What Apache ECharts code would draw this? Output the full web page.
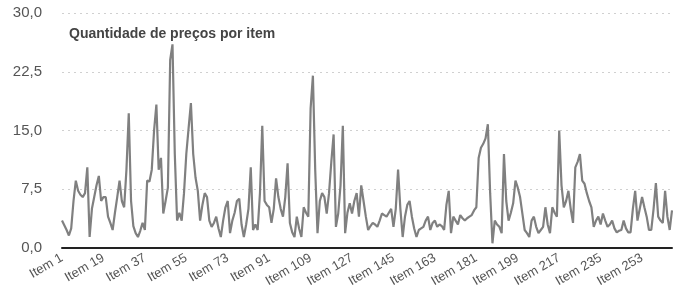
<!DOCTYPE html>
<html>
<head>
<meta charset="utf-8">
<script src="https://cdn.jsdelivr.net/npm/echarts@6/dist/echarts.min.js"></script>
<style>html,body{margin:0;padding:0;background:#fff}#c{width:677px;height:293px}</style>
</head>
<body>
<div id="c"></div>
<script>
var titleText = 'Quantidade de preços por item';
var values = [
3.5,2.9,2.3,1.6,2.5,6,8.6,7.3,6.8,6.5,7,10.3,1.4,5,6.5,8,9.2,6,6.5,6.5,
4,3.2,2.3,4.5,6.5,8.6,6,5.2,10,17.2,6,2.8,1.9,1.4,2.2,3.2,2.3,8.6,8.5,10,
15,18.3,10,11.5,4.4,6,7.7,24,26,12,3.5,4.5,3.5,7,12,15.3,18.5,12,9,7.3,
3.5,5.5,7,6.5,3.5,2.7,3.2,4,2.5,1.4,3.5,5.2,6,1.9,3.5,4.5,6,6.3,3,1.4,
3,5,10.3,2.3,3,2.3,7,15.6,6,5.5,5.2,3.2,5,8.9,6.5,5,4,6.5,10.8,3.2,
2,1.4,4,2.5,1.4,5.2,4.5,4,17.8,22,10,1.9,6,7,6.5,4.4,7,11,14.5,2.7,
4.4,8,15.6,1.9,4.5,5.7,4.4,6,7,4,8,6,4,2.3,2.8,3.2,3,2.7,3.5,4.4,
4.2,4,4.5,5,2.7,5,10,5,1.4,4,5.5,6,4,2.5,1.4,2.3,2.5,2.7,3.5,4,
2.3,3.2,3.5,2.7,3,2.8,2.3,5.5,7.3,1.9,4,3.5,3,4.2,3.8,3.5,3.8,4,4.2,4.8,
5.2,11.5,12.8,13.3,14,15.8,7,0.6,3.5,3,2.7,1.9,12,6,3.5,4.5,5.7,8.6,7.7,6.5,
4.4,2.3,1.9,1.4,3.5,4,2.7,1.9,2.3,2.7,5.2,3,1.9,5.2,4.5,4,15,8,5.2,6,
7.3,5,3.2,10.3,11,12,8.6,8.2,7,6,5.2,2.7,3.5,4,3,4.4,3.5,2.7,3,3.5,
2.5,2,2.2,2.3,3.5,2.5,2,2,5,7.3,3.5,5,6.5,5.2,4,2.3,2.3,5,8.3,4,
3.5,3.2,7.3,4,2.3,4.8
];
var categories = values.map(function(v, i){ return 'Item ' + (i + 1); });
var yTicks = [0, 7.5, 15, 22.5, 30];

var chart = echarts.init(document.getElementById('c'), null, {renderer: 'canvas'});
chart.setOption({
  animation: false,
  backgroundColor: '#ffffff',
  title: {
    text: titleText,
    left: 64, top: 22,
    textStyle: {fontFamily: 'Liberation Sans, Arial, sans-serif', fontSize: 14, fontWeight: 'bold', color: '#444'}
  },
  grid: {left: 62, right: 5, top: 13, bottom: 45},
  xAxis: {
    type: 'category',
    data: categories,
    boundaryGap: false,
    axisLine: {lineStyle: {color: '#222', width: 2}},
    axisTick: {show: false},
    axisLabel: {
      interval: 17, rotate: 30, margin: 9,
      fontFamily: 'Liberation Sans, Arial, sans-serif', fontSize: 13, color: '#555'
    },
    splitLine: {show: false}
  },
  yAxis: {
    type: 'value',
    min: yTicks[0], max: yTicks[yTicks.length - 1], interval: 7.5,
    axisLine: {show: false},
    axisTick: {show: false},
    axisLabel: {
      margin: 20,
      fontFamily: 'Liberation Sans, Arial, sans-serif', fontSize: 15, color: '#555',
      formatter: function(v){ return v.toFixed(1).replace('.', ','); }
    },
    splitLine: {lineStyle: {color: '#d0d0d0', type: [2, 4], width: 1}}
  },
  series: [{
    type: 'line',
    data: values,
    symbol: 'none',
    lineStyle: {color: '#808080', width: 2.2},
    z: 3
  }]
});
</script>
</body>
</html>
